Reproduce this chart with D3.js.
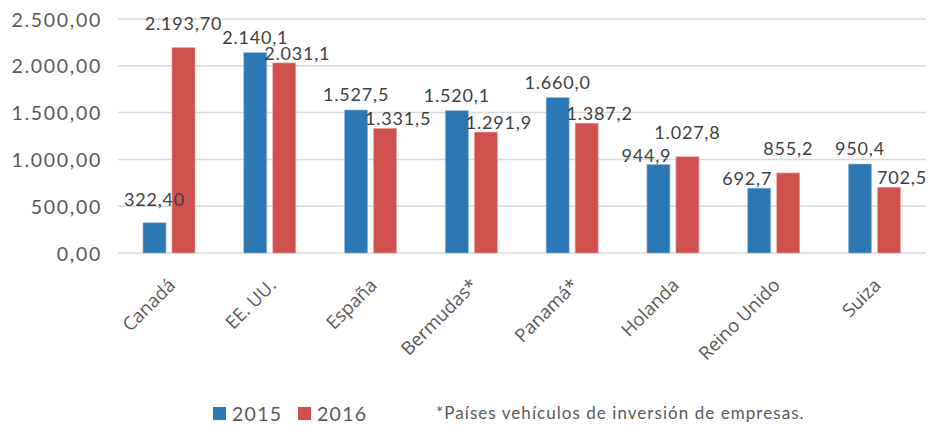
<!DOCTYPE html>
<html>
<head>
<meta charset="utf-8">
<script src="https://cdn.jsdelivr.net/npm/d3@7"></script>
<style>
  html, body { margin: 0; padding: 0; background: #fff; }
  svg { display: block; }
  .num { font-family: "Lato", "Open Sans", sans-serif; }
  .cat { font-family: "Open Sans", "Noto Sans", sans-serif; }
</style>
</head>
<body>
<svg id="chart" width="928" height="425"></svg>
<script>
const categories = ["Canadá", "EE. UU.", "España", "Bermudas*", "Panamá*", "Holanda", "Reino Unido", "Suiza"];
const series2015 = [322.40, 2140.1, 1527.5, 1520.1, 1660.0, 944.9, 692.7, 950.4];
const series2016 = [2193.70, 2031.1, 1331.5, 1291.9, 1387.2, 1027.8, 855.2, 702.5];
const labelDecimals = [2, 1, 1, 1, 1, 1, 1, 1];
const yTicks = [0, 500, 1000, 1500, 2000, 2500];
const seriesNames = ["2015", "2016"];
const seriesColors = ["#2c78b4", "#d0504e"];
const footnote = "*Países vehículos de inversión de empresas.";

const svg = d3.select("#chart");
const loc = d3.formatLocale({ decimal: ",", thousands: ".", grouping: [3], currency: ["", ""] });
const fmtTick = loc.format(",.2f");

const x = d3.scaleBand().domain(categories).range([118.6, 924.9]);
const y = d3.scaleLinear().domain([0, 2500]).range([253, 19]);

const barW = 23, barGap = 6;
const textCol = "#595959";

// gridlines
svg.append("g").selectAll("line").data(yTicks).join("line")
  .attr("x1", 118).attr("x2", 926)
  .attr("y1", d => y(d)).attr("y2", d => y(d))
  .attr("stroke", "#d9d9d9").attr("stroke-width", 1.5);

// y axis labels
const yAxis = d3.axisLeft(y).tickValues(yTicks).tickFormat(fmtTick).tickSize(0).tickPadding(0);
const gy = svg.append("g").attr("transform", "translate(102,0)").call(yAxis);
gy.select(".domain").remove();
gy.selectAll("text")
  .attr("class", "num")
  .attr("fill", textCol)
  .style("font-size", "19.5px")
  .style("letter-spacing", "1.7px")
  .attr("dy", "0.36em");

// bars
const groups = categories.map((c, i) => ({ c, i, v: [series2015[i], series2016[i]] }));
const barX = (c, s) => x(c) + x.bandwidth() / 2 + (s === 0 ? -(barW + barGap / 2) : barGap / 2);

const g = svg.append("g");
groups.forEach(gr => {
  gr.v.forEach((v, s) => {
    g.append("rect")
      .attr("x", barX(gr.c, s))
      .attr("y", y(v))
      .attr("width", barW)
      .attr("height", y(0) - y(v))
      .attr("fill", seriesColors[s])
      .attr("stroke", s === 0 ? "#8fb6d8" : "#e8a3a1")
      .attr("stroke-width", 0.6);
  });
});

// data labels
const lblG = svg.append("g");
groups.forEach(gr => {
  const fmt = loc.format(",." + labelDecimals[gr.i] + "f");
  const tall = gr.v[0] >= gr.v[1] ? 0 : 1;
  const short = 1 - tall;
  const cx = s => barX(gr.c, s) + barW / 2;
  const tallBase = y(gr.v[tall]) - (tall === 1 ? 18 : 9);
  let shortBase = y(gr.v[short]) - 17;
  let shortX = cx(short);
  // collision: nudge the shorter bar's label outward and down to its bar top
  if (shortBase - 16 < tallBase + 6) {
    shortBase = y(gr.v[short]) - 3;
    shortX = cx(short) + (short === 1 ? 13 : -12);
  }
  const pos = [];
  pos[tall] = [cx(tall), tallBase];
  pos[short] = [shortX, shortBase];
  [0, 1].forEach(s => {
    lblG.append("text")
      .attr("class", "num")
      .attr("x", pos[s][0]).attr("y", pos[s][1])
      .attr("text-anchor", "middle")
      .attr("fill", "#404040")
      .style("font-size", "18px")
      .style("letter-spacing", "0.8px")
      .text(fmt(gr.v[s]));
  });
});

// category labels
svg.append("g").selectAll("text").data(categories).join("text")
  .attr("class", "cat")
  .attr("transform", d => `translate(${x(d) + x.bandwidth() / 2 - 2},277) rotate(-45)`)
  .attr("text-anchor", "end")
  .attr("dy", "0.72em")
  .attr("fill", textCol)
  .style("font-size", "18.5px")
  .text(d => d);

// legend
const leg = svg.append("g");
const legX = [213, 298];
seriesNames.forEach((n, s) => {
  leg.append("rect").attr("x", legX[s]).attr("y", 407).attr("width", 13).attr("height", 13)
    .attr("fill", seriesColors[s]);
  leg.append("text").attr("class", "num")
    .attr("x", legX[s] + 19).attr("y", 421)
    .attr("fill", textCol)
    .style("font-size", "19.5px")
    .style("letter-spacing", "1.3px")
    .text(n);
});
leg.append("text").attr("class", "num")
  .attr("x", 436).attr("y", 419)
  .attr("fill", textCol)
  .style("font-size", "17px")
  .style("letter-spacing", "1.05px")
  .text(footnote);
</script>
</body>
</html>
